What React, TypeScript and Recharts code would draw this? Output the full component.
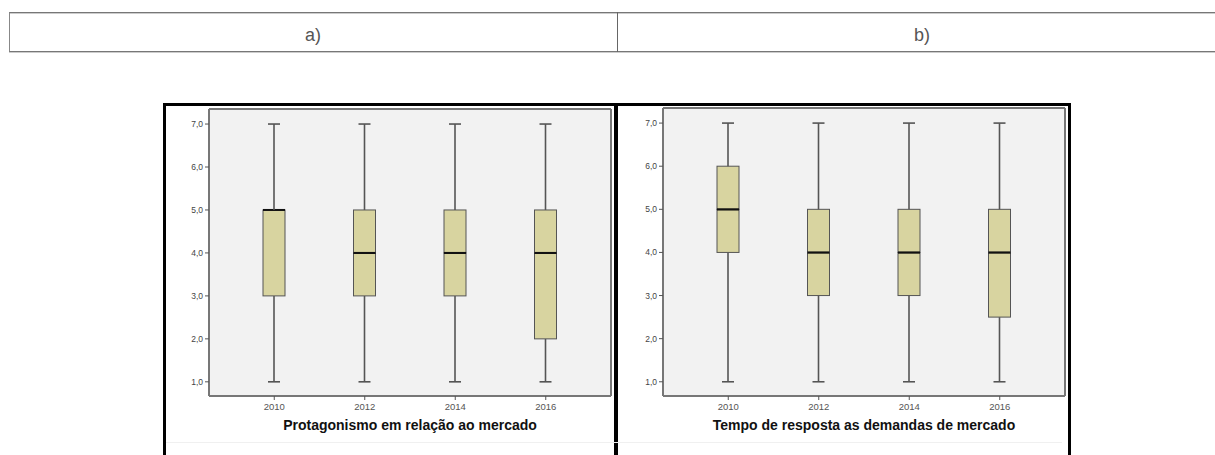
import React from 'react'
import { BarChart, Bar, XAxis, YAxis, CartesianGrid } from 'recharts'

// anos (eixo x)
const years = ['2010', '2012', '2014', '2016']
const yTicks = [1, 2, 3, 4, 5, 6, 7]

// a) Protagonismo em relação ao mercado
const minA = [1, 1, 1, 1]
const q1A = [3, 3, 3, 2]
const medA = [5, 4, 4, 4]
const q3A = [5, 5, 5, 5]
const maxA = [7, 7, 7, 7]

// b) Tempo de resposta as demandas de mercado
const minB = [1, 1, 1, 1]
const q1B = [4, 3, 3, 2.5]
const medB = [5, 4, 4, 4]
const q3B = [6, 5, 5, 5]
const maxB = [7, 7, 7, 7]

const BOX_FILL = '#d8d4a0'
const LINE = '#555'
const FONT = '"Liberation Sans", Arial, sans-serif'

function buildRows(min: number[], q1: number[], med: number[], q3: number[], max: number[]) {
  return years.map((year, i) => ({
    year,
    base: min[i],
    lw: q1[i] - min[i],
    lo: med[i] - q1[i],
    hi: q3[i] - med[i],
    uw: max[i] - q3[i],
  }))
}

const Empty = () => <g />

const LowerWhisker = (props: any) => {
  const { x, y, width, height } = props
  const cx = x + width / 2
  return (
    <g>
      <line x1={cx} x2={cx} y1={y} y2={y + height} stroke={LINE} strokeWidth={1.6} />
      <line x1={cx - 6} x2={cx + 6} y1={y + height} y2={y + height} stroke={LINE} strokeWidth={1.6} />
    </g>
  )
}

const UpperWhisker = (props: any) => {
  const { x, y, width, height } = props
  const cx = x + width / 2
  return (
    <g>
      <line x1={cx} x2={cx} y1={y} y2={y + height} stroke={LINE} strokeWidth={1.6} />
      <line x1={cx - 6} x2={cx + 6} y1={y} y2={y} stroke={LINE} strokeWidth={1.6} />
    </g>
  )
}

const LowerBox = (props: any) => {
  const { x, y, width, height } = props
  return (
    <g>
      {height > 0 && <rect x={x} y={y} width={width} height={height} fill={BOX_FILL} stroke={LINE} strokeWidth={1} />}
      <line x1={x} x2={x + width} y1={y} y2={y} stroke="#111" strokeWidth={2} />
    </g>
  )
}

const UpperBox = (props: any) => {
  const { x, y, width, height } = props
  if (!(height > 0)) return <g />
  return (
    <g>
      <rect x={x} y={y} width={width} height={height} fill={BOX_FILL} stroke={LINE} strokeWidth={1} />
      <line x1={x} x2={x + width} y1={y + height} y2={y + height} stroke="#111" strokeWidth={2} />
    </g>
  )
}

// moldura da área do gráfico a partir do offset do próprio gráfico
const frameRows = ({ offset }: any) => [offset.top, offset.top + offset.height]
const frameCols = ({ offset }: any) => [offset.left, offset.left + offset.width]

function BoxPanel({ rows, title, left, top, marginTop }: { rows: any[]; title: string; left: number; top: number; marginTop: number }) {
  const domain: [number, number] = [0.67, 7.35]
  return (
    <div style={{ position: 'absolute', left, top }}>
      <BarChart
        width={452}
        height={351}
        data={rows}
        margin={{ top: marginTop, right: 5, bottom: 25, left: 0 }}
        barSize={22}
      >
        <CartesianGrid
          fill="#f2f2f2"
          stroke="#777"
          strokeWidth={2}
          horizontalCoordinatesGenerator={frameRows}
          verticalCoordinatesGenerator={frameCols}
        />
        <XAxis
          dataKey="year"
          height={34}
          padding={{ left: 20, right: 20 }}
          axisLine={{ stroke: '#777', strokeWidth: 2 }}
          tickLine={{ stroke: LINE }}
          tickSize={4}
          tickMargin={3}
          tick={{ fill: '#555', fontSize: 9.5, fontFamily: FONT }}
          label={{
            value: title,
            position: 'insideBottom',
            offset: 0,
            fill: '#111',
            fontSize: 14,
            fontWeight: 'bold',
            fontFamily: FONT,
          }}
        />
        <YAxis
          width={45}
          domain={domain}
          ticks={yTicks}
          allowDataOverflow
          axisLine={{ stroke: '#777', strokeWidth: 2 }}
          tickLine={{ stroke: LINE }}
          tickSize={4}
          tickMargin={2}
          tick={{ fill: '#444', fontSize: 8.5, fontFamily: FONT }}
          tickFormatter={(v: number) => v.toFixed(1).replace('.', ',')}
        />
        <Bar dataKey="base" stackId="box" shape={Empty} isAnimationActive={false} />
        <Bar dataKey="lw" stackId="box" shape={LowerWhisker} isAnimationActive={false} />
        <Bar dataKey="lo" stackId="box" shape={LowerBox} isAnimationActive={false} />
        <Bar dataKey="hi" stackId="box" shape={UpperBox} isAnimationActive={false} />
        <Bar dataKey="uw" stackId="box" shape={UpperWhisker} isAnimationActive={false} />
      </BarChart>
    </div>
  )
}

export default function App() {
  const rowsA = buildRows(minA, q1A, medA, q3A, maxA)
  const rowsB = buildRows(minB, q1B, medB, q3B, maxB)
  return (
    <div style={{ position: 'absolute', left: 0, top: 0, width: 1215, height: 455, overflow: 'hidden', background: '#fff', fontFamily: FONT }}>
      {/* tabela de títulos */}
      <div style={{ position: 'absolute', left: 9, top: 12, width: 1206, height: 38, borderTop: '1px solid #777', borderBottom: '1px solid #777', boxShadow: 'inset 0 1px 0 #ccc, 0 1px 0 #ccc', borderLeft: '1px solid #888' }} />
      <div style={{ position: 'absolute', left: 617, top: 12, width: 1, height: 40, background: '#666' }} />
      <div style={{ position: 'absolute', left: 9, top: 25, width: 608, textAlign: 'center', fontSize: 18, color: '#555' }}>a)</div>
      <div style={{ position: 'absolute', left: 618, top: 25, width: 608, textAlign: 'center', fontSize: 18, color: '#555' }}>b)</div>

      <BoxPanel rows={rowsA} title="Protagonismo em relação ao mercado" left={164} top={104} marginTop={5} />
      <BoxPanel rows={rowsB} title="Tempo de resposta as demandas de mercado" left={618} top={104} marginTop={4} />

      {/* molduras */}
      <div style={{ position: 'absolute', left: 163, top: 103, width: 448, height: 400, borderTop: '3px solid #000', borderLeft: '3px solid #000', borderRight: '3px solid #000' }} />
      <div style={{ position: 'absolute', left: 615, top: 103, width: 450, height: 400, borderTop: '3px solid #000', borderLeft: '3px solid #000', borderRight: '3px solid #000' }} />
      <div style={{ position: 'absolute', left: 166, top: 442, width: 896, height: 1, background: '#f0f0f0' }} />
    </div>
  )
}
